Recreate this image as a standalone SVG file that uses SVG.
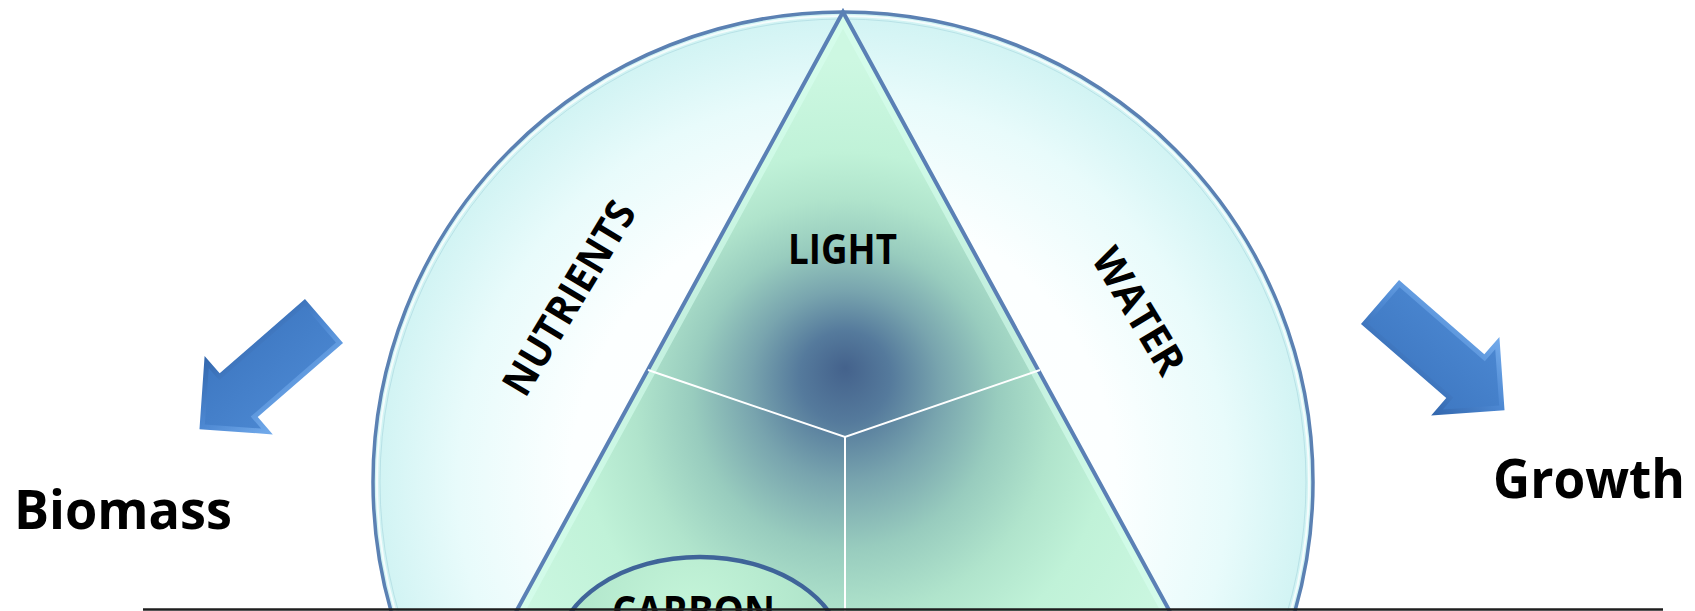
<svg xmlns="http://www.w3.org/2000/svg" width="1695" height="611" viewBox="0 0 1695 611">
<defs>
<style>
.lbl{font-family:"Open Sans","Liberation Sans",sans-serif;font-weight:700;fill:#000}
.inner{stroke:#ffffff;stroke-width:2;fill:none}
</style>
<radialGradient id="circFill" gradientUnits="userSpaceOnUse" cx="843" cy="482" r="470">
<stop offset="0" stop-color="#ffffff"/>
<stop offset="0.58" stop-color="#fcffff"/>
<stop offset="0.82" stop-color="#e8fbfb"/>
<stop offset="1" stop-color="#d0f3f3"/>
</radialGradient>
<radialGradient id="triFill" gradientUnits="userSpaceOnUse" cx="845" cy="440" r="380" fx="845" fy="368">
<stop offset="0" stop-color="#44628c"/>
<stop offset="0.12" stop-color="#557a9c"/>
<stop offset="0.25" stop-color="#78a4ae"/>
<stop offset="0.4" stop-color="#98ccbe"/>
<stop offset="0.55" stop-color="#b0e4cc"/>
<stop offset="0.7" stop-color="#c0f2d8"/>
<stop offset="1" stop-color="#cdf8e2"/>
</radialGradient>
<radialGradient id="ellFill" gradientUnits="userSpaceOnUse" cx="690" cy="620" r="150">
<stop offset="0" stop-color="#c6f6da"/>
<stop offset="1" stop-color="#ace2c8"/>
</radialGradient>
<linearGradient id="arrEdge" x1="0" y1="0" x2="0" y2="1">
<stop offset="0" stop-color="#74acec"/>
<stop offset="0.5" stop-color="#4d88d2"/>
<stop offset="1" stop-color="#3266ac"/>
</linearGradient>
<linearGradient id="arrFace" x1="0" y1="0" x2="0" y2="1">
<stop offset="0" stop-color="#4a86d0"/>
<stop offset="1" stop-color="#3f79c3"/>
</linearGradient>
<clipPath id="triClip"><path d="M843,12 L1229,720 L457,720 Z"/></clipPath>
<g id="arrowShape">
<polygon points="0,-29 113,-29 113,-52 165,0 113,52 113,29 0,29" fill="url(#arrEdge)"/>
<polygon points="5,-24 118,-24 118,-39.9 157.9,0 118,39.9 118,24 5,24" fill="url(#arrFace)"/>
</g>
</defs>

<g id="circle">
<circle cx="843" cy="482" r="470" fill="url(#circFill)" stroke="#5b81b3" stroke-width="3.5"/>
<circle cx="843" cy="482" r="466" fill="none" stroke="#ffffff" stroke-opacity="0.75" stroke-width="2"/>
<circle cx="843" cy="482" r="463" fill="none" stroke="#a6d6de" stroke-opacity="0.6" stroke-width="1"/>
</g>

<g id="triangle">
<path d="M843,12 L1229,720 L457,720 Z" fill="url(#triFill)"/>
<path d="M843,12 L1229,720 L457,720 Z" fill="none" stroke="#d8fff0" stroke-opacity="0.6" stroke-width="16" clip-path="url(#triClip)"/>
<path d="M843,12 L1229,720 L457,720 Z" fill="none" stroke="#5a80b5" stroke-width="4" stroke-linejoin="miter"/>
<polyline class="inner" points="648,370 845,437 1040,370"/>
<line class="inner" x1="845" y1="437" x2="845" y2="611"/>
</g>

<g id="carbon">
<ellipse cx="700" cy="656" rx="144" ry="99" fill="url(#ellFill)" stroke="#3f6499" stroke-width="4.5"/>
<text class="lbl" x="612" y="626" font-size="41" textLength="163" lengthAdjust="spacingAndGlyphs">CARBON</text>
</g>

<g id="light">
<text class="lbl" x="788" y="264" font-size="41" textLength="109" lengthAdjust="spacingAndGlyphs">LIGHT</text>
</g>

<g id="nutrients">
<text class="lbl" transform="translate(569,298) rotate(-59)" x="0" y="14.5" font-size="41" text-anchor="middle" textLength="218" lengthAdjust="spacingAndGlyphs">NUTRIENTS</text>
</g>

<g id="water">
<text class="lbl" transform="translate(1139,311) rotate(59)" x="0" y="14.5" font-size="41" text-anchor="middle" textLength="140" lengthAdjust="spacingAndGlyphs">WATER</text>
</g>

<g id="biomass">
<text class="lbl" x="14" y="529" font-size="53" textLength="218" lengthAdjust="spacingAndGlyphs">Biomass</text>
</g>

<g id="growth">
<text class="lbl" x="1493" y="498" font-size="53" textLength="192" lengthAdjust="spacingAndGlyphs">Growth</text>
</g>

<g id="connectors">
<use href="#arrowShape" transform="translate(324,321) rotate(139)"/>
<use href="#arrowShape" transform="translate(1380,302) rotate(41)"/>
</g>

<g id="baseline">
<line x1="143" y1="609.5" x2="1663" y2="609.5" stroke="#1e1e1e" stroke-width="2.5"/>
</g>
</svg>
